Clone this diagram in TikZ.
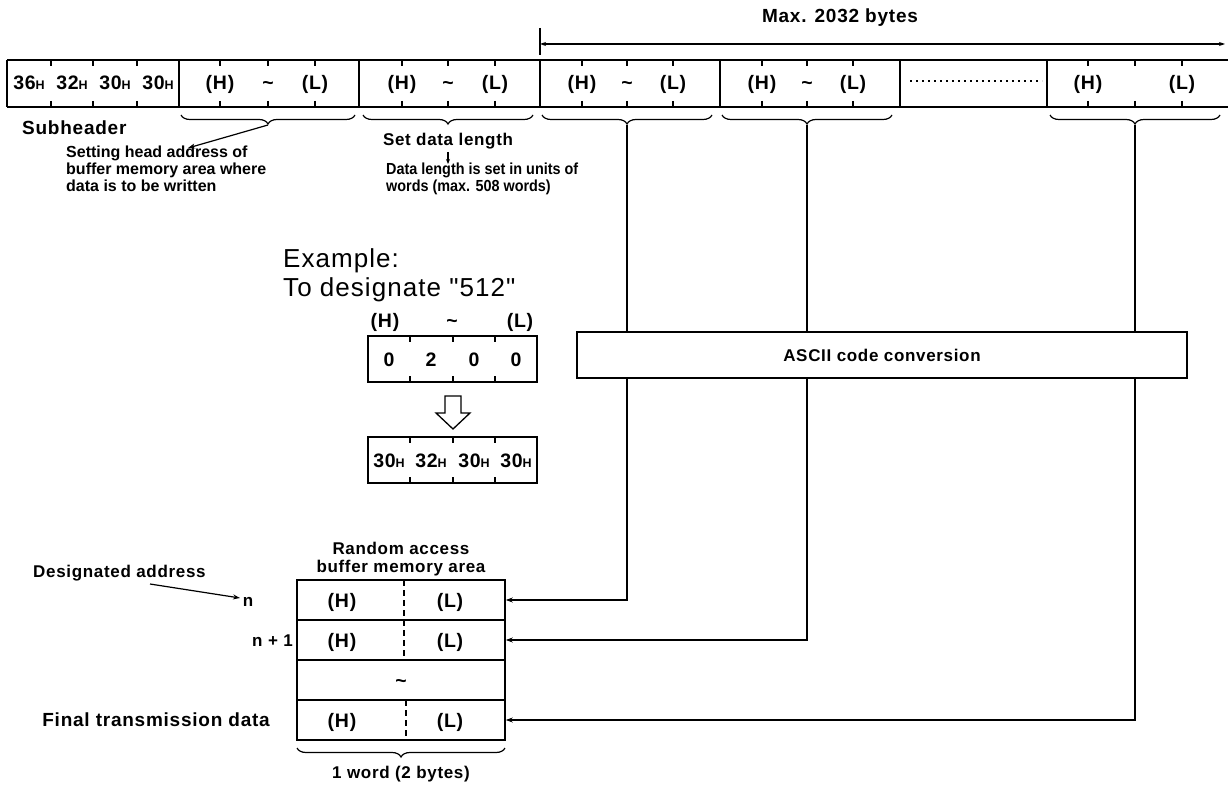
\documentclass[tikz,border=0pt]{standalone}
\usepackage{fontspec}
\setmainfont{Liberation Sans}
\newfontfamily\spfont[LetterSpace=4]{Liberation Sans}
\usetikzlibrary{arrows.meta,decorations.pathreplacing,calc}
\newcommand\hsm{{\fontsize{12.5}{12.5}\selectfont H}}
\begin{document}
\begin{tikzpicture}[x=1pt,y=-1pt,
  cell/.style={font=\spfont\bfseries\fontsize{19.5}{20}\selectfont, inner sep=0, anchor=base},
  lbl/.style={font=\spfont\bfseries\fontsize{17}{19}\selectfont, inner sep=0, anchor=base},
  lblbig/.style={lbl, font=\spfont\bfseries\fontsize{19}{21}\selectfont},
  expl/.style={font=\bfseries\fontsize{16}{17}\selectfont, inner sep=0, anchor=base west},
  big/.style={font=\spfont\fontsize{26}{28}\selectfont, inner sep=0, anchor=base west},
  rowline/.style={line width=1.8pt},
  sepline/.style={line width=1.3pt},
  tickline/.style={line width=1.2pt},
  brc/.style={decorate, decoration={brace, mirror, amplitude=9pt}, line width=1.2pt},
  arr/.style={line width=1.2pt, -{Stealth[length=7pt,width=5pt]}},
  conn/.style={line width=1.1pt, -{Stealth[length=7pt,width=5pt]}},
  memrow/.style={draw, line width=1.6pt, minimum width=208pt, minimum height=40pt, inner sep=0},
  divider/.style={line width=1.2pt, dash pattern=on 6pt off 4pt}
]
\path[use as bounding box] (0,0) rectangle (1228,786);

% ---------- Max. 2032 bytes dimension ----------
\node[lblbig] (maxlbl) at (840,23) {Max. 2032 bytes};
\coordinate (dimL) at (540,44);
\coordinate (dimR) at (1225,44);
\draw[sepline] (540,28) -- (540,55);
\draw[line width=1.2pt, {Stealth[length=6pt,width=4pt]}-{Stealth[length=6pt,width=4pt]}] (dimL) -- (dimR);

% ---------- top frame ----------
\draw[rowline] (7,60) -- (1228,60);
\draw[rowline] (7,107) -- (1228,107);
\foreach \x in {7,179,359,540,720,900,1047} \draw[sepline] (\x,60) -- (\x,107);
\foreach \x in {51,93,137,220,268,315,402,448,495,582,627,673,762,807,853,1088,1135,1182} {
  \draw[tickline] (\x,60) -- (\x,66);
  \draw[tickline] (\x,101) -- (\x,107);
}
\node[cell] (s1) at (29,90) {36\hsm};
\node[cell] (s2) at (72,90) {32\hsm};
\node[cell] (s3) at (115,90) {30\hsm};
\node[cell] (s4) at (158,90) {30\hsm};
\foreach \a/\b/\c/\n in {220/268/315/a, 402/448/495/b, 582/627/673/c, 762/807/853/d} {
  \node[cell] (h\n) at (\a,90) {(H)};
  \node[cell] (w\n) at (\b,90) {\textasciitilde};
  \node[cell] (l\n) at (\c,90) {(L)};
}
\draw[line width=2.2pt, dash pattern=on 2pt off 4pt] (910,81) -- (1042,81);
\node[cell] (he) at (1088,90) {(H)};
\node[cell] (le) at (1182,90) {(L)};

% ---------- braces ----------
\draw[brc] (181,115) -- (355,115);
\draw[brc] (363,115) -- (533,115);
\draw[brc] (542,115) -- (712,115);
\draw[brc] (722,115) -- (892,115);
\draw[brc] (1050,115) -- (1220,115);
\coordinate (b1) at (268,125);
\coordinate (b2) at (448,125);
\coordinate (b3) at (627,125);
\coordinate (b4) at (807,125);
\coordinate (b5) at (1135,125);

% ---------- labels under the frame ----------
\node[lblbig, anchor=base west] (subh) at (22,135) {Subheader};
\node[lbl] (setlen) at (448,146) {Set data length};
\node[expl] (t1a) at (66,158) {Setting head address of};
\node[expl] (t1b) at (66,175) {buffer memory area where};
\node[expl] (t1c) at (66,192) {data is to be written};
\node[expl] (t2a) at (386,175) {\scalebox{0.9}[1]{Data length is set in units of}};
\node[expl] (t2b) at (386,192) {\scalebox{0.9}[1]{words (max. 508 words)}};
\coordinate (a1end) at (188,148);
\draw[arr] (b1) -- (a1end);
\coordinate (a2start) at (448,152);
\coordinate (a2end) at (448,164);
\draw[line width=1.2pt, -{Stealth[length=5pt,width=4pt]}] (a2start) -- (a2end);

% ---------- example ----------
\node[big] (ex1) at (283,268) {Example:};
\node[big] (ex2) at (283,296) {To designate "512"};
\node[cell] (eh) at (385,327) {(H)};
\node[cell] (et) at (452,327) {\textasciitilde};
\node[cell] (el) at (520,327) {(L)};
\draw[line width=1.5pt] (368,336) rectangle (537,382);
\foreach \x in {410,453,495} {
  \draw[tickline] (\x,336) -- (\x,342);
  \draw[tickline] (\x,376) -- (\x,382);
}
\node[cell] (d1) at (389,366) {0};
\node[cell] (d2) at (431,366) {2};
\node[cell] (d3) at (474,366) {0};
\node[cell] (d4) at (516,366) {0};
\draw[line width=1.3pt, line join=miter] (445,396) -- (461,396) -- (461,413) -- (470,413) -- (453,429) -- (436,413) -- (445,413) -- cycle;
\draw[line width=1.5pt] (368,437) rectangle (537,483);
\foreach \x in {410,453,495} {
  \draw[tickline] (\x,437) -- (\x,443);
  \draw[tickline] (\x,477) -- (\x,483);
}
\node[cell] (c1) at (389,467) {30\hsm};
\node[cell] (c2) at (431,467) {32\hsm};
\node[cell] (c3) at (474,467) {30\hsm};
\node[cell] (c4) at (516,467) {30\hsm};

% ---------- memory area ----------
\node[lbl] (ra1) at (401,554) {Random access};
\node[lbl] (ra2) at (401,572) {buffer memory area};
\node[memrow] (r1) at (401,600) {};
\node[memrow] (r2) at (401,640) {};
\node[memrow] (r3) at (401,680) {};
\node[memrow] (r4) at (401,720) {};
\draw[divider] (404,580) -- (404,660);
\draw[divider] (406,700) -- (406,740);
\node[cell] (r1h) at (342,607) {(H)};
\node[cell] (r1l) at (450,607) {(L)};
\node[cell] (r2h) at (342,647) {(H)};
\node[cell] (r2l) at (450,647) {(L)};
\node[cell] (r3t) at (401,687) {\textasciitilde};
\node[cell] (r4h) at (342,727) {(H)};
\node[cell] (r4l) at (450,727) {(L)};
\node[lbl, anchor=base west] (desig) at (33,577) {Designated address};
\node[lbl] (nlab) at (248,606) {n};
\node[lbl, anchor=base east] (n1lab) at (293,646) {n + 1};
\node[lblbig, anchor=base east] (final) at (270,726) {Final transmission data};
\coordinate (dstart) at (150,584);
\coordinate (dend) at (240,598);
\draw[arr] (dstart) -- (dend);
\draw[brc] (297,748) -- (505,748);
\node[lbl] (word) at (401,778) {1 word (2 bytes)};

% ---------- connectors ----------
\draw[conn] (b3) |- (r1.east);
\draw[conn] (b4) |- (r2.east);
\draw[conn] (b5) |- (r4.east);
\node[draw, fill=white, line width=1.5pt, minimum width=610pt, minimum height=46pt, inner sep=0] (ascii) at (882,355) {};
\node[lbl] (asciit) at (882,361) {ASCII code conversion};
\end{tikzpicture}
\end{document}
